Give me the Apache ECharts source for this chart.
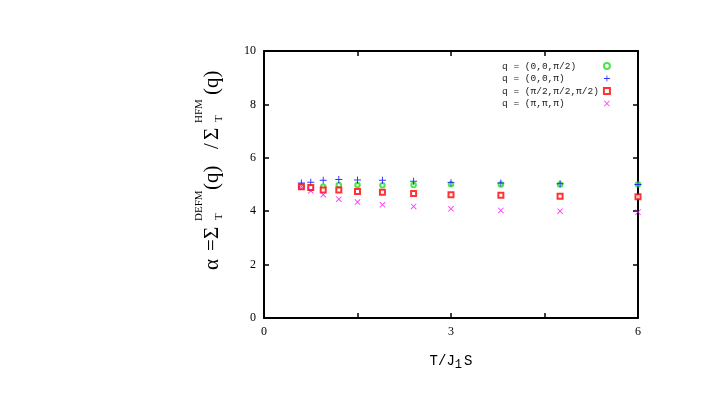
<!DOCTYPE html>
<html>
<head>
<meta charset="utf-8">
<script src="https://cdn.jsdelivr.net/npm/echarts@6/dist/echarts.min.js"></script>
<style>html,body{margin:0;padding:0;background:#fff}#c{width:728px;height:409px}</style>
</head>
<body>
<div id="c"></div>
<script>
// ---- data ----
const temps = [0.6, 0.75, 0.95, 1.2, 1.5, 1.9, 2.4, 3.0, 3.8, 4.75, 6.0];
const alphaQ1 = [4.92, 4.86, 4.92, 4.98, 4.98, 4.97, 4.98, 5.01, 5.0, 5.0, 5.0];   // q=(0,0,π/2)
const alphaQ2 = [5.06, 5.08, 5.16, 5.19, 5.17, 5.16, 5.12, 5.07, 5.06, 5.03, 5.0]; // q=(0,0,π)
const alphaQ3 = [4.92, 4.89, 4.79, 4.79, 4.74, 4.71, 4.66, 4.62, 4.6, 4.56, 4.54]; // q=(π/2,π/2,π/2)
const alphaQ4 = [4.92, 4.76, 4.62, 4.45, 4.34, 4.24, 4.18, 4.09, 4.03, 4.0, 3.96]; // q=(π,π,π)
const seriesNames = ['q = (0,0,π/2)', 'q = (0,0,π)', 'q = (π/2,π/2,π/2)', 'q = (π,π,π)'];
const xTickLabels = [0, 3, 6];
const yTickLabels = [0, 2, 4, 6, 8, 10];

const pair = (ys) => temps.map((t, i) => [t, ys[i]]);
const plusPath = 'path://M0,4.3H10V5.7H0Z M4.3,0H5.7V10H4.3Z';
const crossPath = 'path://M0,1L1,0L10,9L9,10Z M9,0L10,1L1,10L0,9Z';

const chart = echarts.init(document.getElementById('c'), null, {renderer: 'canvas'});
const serif = 'Liberation Serif';
const mono = 'Liberation Mono';

const axisCommon = {
  axisLine: {show: true, onZero: false, lineStyle: {color: '#000', width: 2}},
  axisTick: {show: true, inside: true, length: 5, lineStyle: {color: '#000', width: 1.5}},
  splitLine: {show: false}
};

const maxLen = Math.max(...seriesNames.map(s => s.length));

chart.setOption({
  animation: false,
  backgroundColor: '#fff',
  grid: {left: 264, right: 90, top: 51, bottom: 91, containLabel: false},
  legend: {
    orient: 'vertical', left: 497, top: 55, align: 'right',
    itemWidth: 6, itemHeight: 6, itemGap: 0.5,
    formatter: name => name.padEnd(maxLen, '\u00a0'),
    textStyle: {fontFamily: mono, fontSize: 9.5, color: '#222', lineHeight: 12},
    data: seriesNames
  },
  xAxis: [
    Object.assign({}, axisCommon, {
      type: 'value', min: 0, max: 6, interval: 1.5, position: 'bottom',
      axisLabel: {
        margin: 8, fontFamily: serif, fontSize: 12, color: '#000',
        formatter: v => (xTickLabels.indexOf(v) >= 0 ? String(v) : '')
      },
      name: '{a|T/J}{b|1}{a|S}', nameLocation: 'middle', nameGap: 33,
      nameTextStyle: {
        rich: {
          a: {fontFamily: mono, fontSize: 14, color: '#000'},
          b: {fontFamily: mono, fontSize: 12, color: '#000', padding: [8, 2, 0, 0]}
        }
      }
    }),
    Object.assign({}, axisCommon, {
      type: 'value', min: 0, max: 6, interval: 1.5, position: 'top',
      axisLabel: {show: false}
    })
  ],
  yAxis: [
    Object.assign({}, axisCommon, {
      type: 'value', min: 0, max: 10, interval: 2, position: 'left',
      axisLabel: {
        margin: 8, fontFamily: serif, fontSize: 12, color: '#000',
        formatter: v => (yTickLabels.indexOf(v) >= 0 ? String(v) : '')
      }
    }),
    Object.assign({}, axisCommon, {
      type: 'value', min: 0, max: 10, interval: 2, position: 'right',
      axisLabel: {show: false}
    })
  ],
  series: [
    {name: seriesNames[0], type: 'scatter', data: pair(alphaQ1), symbol: 'emptyCircle', symbolSize: 4.5,
     itemStyle: {color: '#22dd22', borderWidth: 1.5}},
    {name: seriesNames[1], type: 'scatter', data: pair(alphaQ2), symbol: plusPath, symbolSize: 7,
     itemStyle: {color: '#0000ff'}},
    {name: seriesNames[2], type: 'scatter', data: pair(alphaQ3), symbol: 'emptyRect', symbolSize: 5,
     itemStyle: {color: '#ff0000', borderWidth: 1.3}},
    {name: seriesNames[3], type: 'scatter', data: pair(alphaQ4), symbol: crossPath, symbolSize: 6,
     itemStyle: {color: '#ff00ff'}}
  ],
  graphic: [{
    type: 'group', x: 212, y: 270, rotation: Math.PI / 2,
    children: [
      {type: 'text', x: 0, y: 0, style: {text: 'α', font: '21px "Liberation Serif"', fill: '#000', verticalAlign: 'middle'}},
      {type: 'text', x: 19, y: 0, style: {text: '=', font: '21px "Liberation Serif"', fill: '#000', verticalAlign: 'middle'}},
      {type: 'text', x: 31, y: 0, style: {text: 'Σ', font: '21px "Liberation Serif"', fill: '#000', verticalAlign: 'middle'}},
      {type: 'text', x: 49, y: -13, style: {text: 'DEFM', font: '11px "Liberation Serif"', fill: '#000', verticalAlign: 'middle'}},
      {type: 'text', x: 50, y: 7, style: {text: 'T', font: '11px "Liberation Serif"', fill: '#000', verticalAlign: 'middle'}},
      {type: 'text', x: 80, y: 0, style: {text: '(q)', font: '21px "Liberation Serif"', fill: '#000', verticalAlign: 'middle'}},
      {type: 'text', x: 121, y: 0, style: {text: '/', font: '21px "Liberation Serif"', fill: '#000', verticalAlign: 'middle'}},
      {type: 'text', x: 130, y: 0, style: {text: 'Σ', font: '21px "Liberation Serif"', fill: '#000', verticalAlign: 'middle'}},
      {type: 'text', x: 147, y: -13, style: {text: 'HFM', font: '11px "Liberation Serif"', fill: '#000', verticalAlign: 'middle'}},
      {type: 'text', x: 148, y: 7, style: {text: 'T', font: '11px "Liberation Serif"', fill: '#000', verticalAlign: 'middle'}},
      {type: 'text', x: 175, y: 0, style: {text: '(q)', font: '21px "Liberation Serif"', fill: '#000', verticalAlign: 'middle'}}
    ]
  }]
});
</script>
</body>
</html>
